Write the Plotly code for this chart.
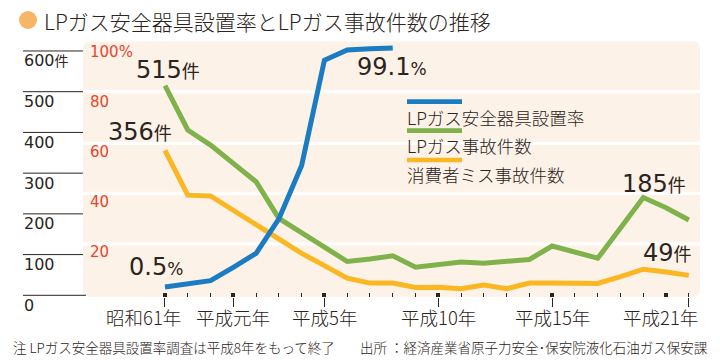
import plotly.graph_objects as go

# ---------------- data ----------------
years = list(range(1986, 2010))
lp_accidents = [515, 406, 369, 324, 279, 189, 154, 118, 83, 89, 97, 69, 74, 82, 79, 85, 88,
                121, 106, 91, 165, 240, 215, 185]
consumer_accidents = [356, 246, 244, 208, 172, 137, 103, 73, 42, 30, 30, 19, 20, 16, 25, 16, 30,
                      30, 30, 29, 46, 64, 57, 49]
rate_years = list(range(1986, 1997))
safety_rate = [0.5, 1.7, 3.1, 8.6, 14.4, 28.6, 50.6, 94.0, 98.3, 98.8, 99.1]

count_ticks = [0, 100, 200, 300, 400, 500, 600]
count_labels = ["0", "100", "200", "300", "400", "500", "600<span style='font-size:14px'>件</span>"]
pct_ticks = [100, 80, 60, 40, 20]
pct_labels = ["100%", "80", "60", "40", "20"]
x_label_years = [1986, 1989, 1993, 1998, 2003, 2009]
x_labels = ["昭和61年", "平成元年", "平成5年", "平成10年", "平成15年", "平成21年"]
x_label_shift = [-21, 0, 0, 0, 0, -28]
square_years = [1986, 1989, 1993, 1998, 2003, 2008]
series_names = ["LPガス安全器具設置率", "LPガス事故件数", "消費者ミス事故件数"]

# ---------------- styling ----------------
W, H = 720, 362
L, R, T, B = 83, 20, 41, 65
PW, PH = W - L - R, H - T - B
NUMFONT = "DejaVu Sans, Noto Sans CJK JP"
JPFONT = "Noto Sans CJK JP"
DARK = "#2b2421"
RED = "#e8452a"
BLUE = "#1b7cc4"
GREEN = "#7fb24a"
ORANGE = "#fbb623"
PANEL = "#fdf2e7"


def px(x):
    return (x - L) / PW


def py(y):
    return (H - B - y) / PH


def nfont(size, color=DARK):
    return dict(family=NUMFONT, size=size, color=color)


def jfont(size, color=DARK):
    return dict(family=JPFONT, size=size, color=color, weight=300)


x_range = [1982.40, 2009.49]

fig = go.Figure()
fig.add_trace(go.Scatter(x=years, y=lp_accidents, mode="lines", name=series_names[1],
                         line=dict(color=GREEN, width=5), xaxis="x", yaxis="y",
                         hoverinfo="skip"))
fig.add_trace(go.Scatter(x=years, y=consumer_accidents, mode="lines", name=series_names[2],
                         line=dict(color=ORANGE, width=5), xaxis="x", yaxis="y",
                         hoverinfo="skip"))
fig.add_trace(go.Scatter(x=rate_years, y=safety_rate, mode="lines", name=series_names[0],
                         line=dict(color=BLUE, width=5), xaxis="x", yaxis="y2",
                         hoverinfo="skip"))
# empty traces so the decorative tick axes are drawn
fig.add_trace(go.Scatter(x=[], y=[], xaxis="x2", yaxis="y", showlegend=False, hoverinfo="skip"))
fig.add_trace(go.Scatter(x=[], y=[], xaxis="x3", yaxis="y", showlegend=False, hoverinfo="skip"))

shapes = []
# rounded panel
r = 7
top, bot, lft, rgt = 41.5, 297, 83, 700
path = (f"M {px(lft + r)},{py(top)} L {px(rgt - r)},{py(top)} "
        f"Q {px(rgt)},{py(top)} {px(rgt)},{py(top + r)} L {px(rgt)},{py(bot - r)} "
        f"Q {px(rgt)},{py(bot)} {px(rgt - r)},{py(bot)} L {px(lft + r)},{py(bot)} "
        f"Q {px(lft)},{py(bot)} {px(lft)},{py(bot - r)} L {px(lft)},{py(top + r)} "
        f"Q {px(lft)},{py(top)} {px(lft + r)},{py(top)} Z")
shapes.append(dict(type="path", path=path, xref="paper", yref="paper",
                   fillcolor=PANEL, line=dict(width=0), layer="below"))
for sep in [91.7, 143.3, 193.4, 243.8]:
    shapes.append(dict(type="line", xref="paper", yref="paper", x0=0, x1=1,
                       y0=py(sep), y1=py(sep), line=dict(color="white", width=3.3),
                       layer="below"))
# left count axis lines
for v in count_ticks:
    shapes.append(dict(type="line", xref="paper", yref="y", x0=px(23),
                       x1=px(86 if v == 0 else 83), y0=v, y1=v,
                       line=dict(color=DARK, width=1), layer="below"))
# title bullet
shapes.append(dict(type="circle", xref="paper", yref="paper", x0=px(19), x1=px(37),
                   y0=py(29), y1=py(11), fillcolor="#f8b566", line=dict(width=0)))
# legend lines
legend_colors = [BLUE, GREEN, ORANGE]
legend_line_y = [101.7, 130.7, 160.0]
legend_text_y = [117.5, 145.5, 174.5]
for c, ly in zip(legend_colors, legend_line_y):
    shapes.append(dict(type="line", xref="paper", yref="paper", x0=px(407), x1=px(462),
                       y0=py(ly), y1=py(ly), line=dict(color=c, width=4.7)))

ann = []
ann.append(dict(text="LPガス安全器具設置率とLPガス事故件数の推移", xref="paper", yref="paper",
                x=px(42), y=py(21), xanchor="left", yanchor="middle", showarrow=False,
                font=jfont(21)))
for v, t in zip(count_ticks, count_labels):
    ann.append(dict(text=t, xref="paper", yref="y", x=px(22), y=v, yshift=-10,
                    xanchor="left", yanchor="middle", showarrow=False,
                    font=nfont(16)))
pct_label_y = [51.7, 101.7, 152, 202, 252]
for t, yy in zip(pct_labels, pct_label_y):
    ann.append(dict(text=t, xref="paper", yref="paper", x=px(88), y=py(yy),
                    xanchor="left", yanchor="middle", showarrow=False,
                    font=nfont(15, RED)))
for yr, t, sh in zip(x_label_years, x_labels, x_label_shift):
    ann.append(dict(text=t, xref="x", yref="paper", x=yr, y=py(316.5), xshift=sh,
                    xanchor="center", yanchor="middle", showarrow=False,
                    font=jfont(18.5)))
for t, ty in zip(series_names, legend_text_y):
    ann.append(dict(text=t, xref="paper", yref="paper", x=px(405), y=py(ty),
                    xanchor="left", yanchor="middle", showarrow=False,
                    font=jfont(17.5)))

value_labels = [
    (f"{lp_accidents[0]}<span style='font-size:18px'>件</span>", 134, 70),
    (f"{consumer_accidents[0]}<span style='font-size:18px'>件</span>", 106, 132),
    (f"{safety_rate[0]}<span style='font-size:17px'>%</span>", 127, 267),
    (f"{safety_rate[-1]}<span style='font-size:17px'>%</span>", 355, 67),
    (f"{lp_accidents[-1]}<span style='font-size:18px'>件</span>", 620, 184),
    (f"{consumer_accidents[-1]}<span style='font-size:18px'>件</span>", 641, 253),
]
for t, x0, y0 in value_labels:
    ann.append(dict(text=t, xref="paper", yref="paper", x=px(x0), y=py(y0),
                    xanchor="left", yanchor="middle", showarrow=False, font=nfont(24)))

ann.append(dict(text="注 LPガス安全器具設置率調査は平成8年をもって終了", xref="paper", yref="paper",
                x=px(11), y=py(346.5), xanchor="left", yanchor="middle", showarrow=False,
                font=jfont(13.5)))
ann.append(dict(text="出所 ：経済産業省原子力安全･保安院液化石油ガス保安課", xref="paper", yref="paper",
                x=px(358), y=py(346.5), xanchor="left", yanchor="middle", showarrow=False,
                font=jfont(13.5)))

common_x = dict(range=x_range, showgrid=False, zeroline=False, showline=False,
                showticklabels=False, tickcolor=DARK, fixedrange=True)
fig.update_layout(
    width=W, height=H,
    margin=dict(l=L, r=R, t=T, b=B),
    paper_bgcolor="white", plot_bgcolor="rgba(0,0,0,0)",
    showlegend=False,
    xaxis=dict(**common_x, anchor="y", domain=[0, 1], ticks="inside", tickvals=years,
               ticklen=4, tickwidth=1),
    xaxis2=dict(**common_x, anchor="y", overlaying="x", side="bottom", ticks="outside",
                tickvals=x_label_years, ticklen=9, tickwidth=1),
    xaxis3=dict(**common_x, anchor="y", overlaying="x", side="bottom", ticks="inside",
                tickvals=square_years, ticklen=4, tickwidth=4),
    yaxis=dict(range=[-4.17, 624.5], visible=False, fixedrange=True),
    yaxis2=dict(range=[-3.63, 101.98], overlaying="y", visible=False, fixedrange=True),
    shapes=shapes,
    annotations=ann,
)

fig.write_html("out.html", config={"displayModeBar": False},
               post_script="document.body.style.margin='0px';")
